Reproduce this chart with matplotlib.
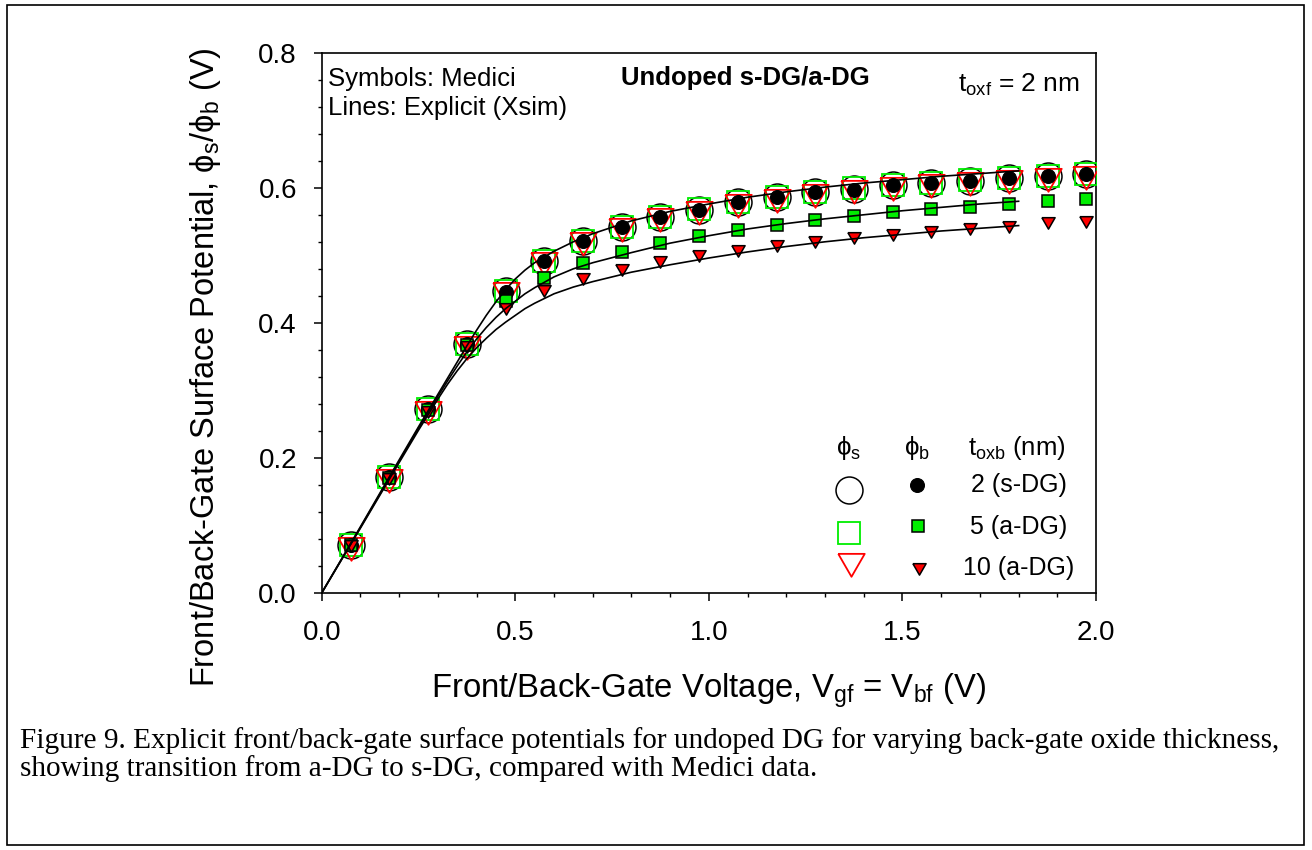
# Explicit front/back-gate surface potentials, undoped DG, varying back-gate oxide

import matplotlib
matplotlib.use("Agg")
import matplotlib.pyplot as plt
from matplotlib.patches import Rectangle
from matplotlib.ticker import MultipleLocator, FormatStrFormatter

plt.rcParams['font.family'] = ['Liberation Sans', 'DejaVu Sans']
plt.rcParams['mathtext.fontset'] = 'custom'
plt.rcParams['mathtext.rm'] = 'Liberation Sans'
plt.rcParams['mathtext.it'] = 'Liberation Sans:italic'
plt.rcParams['mathtext.bf'] = 'Liberation Sans:bold'

# Medici data (symbols)
vg = [0.075, 0.175, 0.275, 0.375, 0.475, 0.575, 0.675, 0.775, 0.875, 0.975,
      1.075, 1.175, 1.275, 1.375, 1.475, 1.575, 1.675, 1.775, 1.875, 1.975]

# phi_s, front surface (open symbols)
phis_2 = [0.071, 0.171, 0.272, 0.368, 0.447, 0.492, 0.521, 0.542, 0.557, 0.567,
          0.579, 0.587, 0.594, 0.598, 0.604, 0.607, 0.610, 0.614, 0.618, 0.620]
phis_5 = [0.071, 0.171, 0.272, 0.368, 0.447, 0.492, 0.521, 0.542, 0.557, 0.568,
          0.579, 0.587, 0.594, 0.599, 0.604, 0.607, 0.611, 0.614, 0.618, 0.621]
phis_10 = [0.071, 0.171, 0.272, 0.369, 0.448, 0.493, 0.522, 0.543, 0.558, 0.568,
           0.579, 0.587, 0.594, 0.599, 0.604, 0.608, 0.611, 0.615, 0.618, 0.621]

# phi_b, back surface (filled symbols)
phib_2 = [0.071, 0.171, 0.272, 0.368, 0.446, 0.492, 0.521, 0.542, 0.557, 0.567,
          0.579, 0.587, 0.594, 0.597, 0.604, 0.607, 0.610, 0.614, 0.618, 0.620]
phib_5 = [0.071, 0.170, 0.271, 0.367, 0.433, 0.466, 0.488, 0.505, 0.518, 0.529,
          0.537, 0.545, 0.552, 0.558, 0.564, 0.568, 0.572, 0.576, 0.580, 0.583]
phib_10 = [0.072, 0.171, 0.271, 0.367, 0.423, 0.450, 0.468, 0.481, 0.493, 0.502,
           0.510, 0.517, 0.523, 0.528, 0.533, 0.538, 0.542, 0.545, 0.551, 0.553]

# Explicit model (lines)
vg_line = [0.0, 0.1, 0.2, 0.25, 0.3, 0.325, 0.35, 0.375, 0.4, 0.425, 0.45,
           0.475, 0.5, 0.525, 0.55, 0.6, 0.65, 0.7, 0.8, 0.9, 1.0, 1.1, 1.2,
           1.3, 1.4, 1.5, 1.6, 1.7, 1.8]
line_2 = [0.0, 0.098, 0.197, 0.246, 0.294, 0.318, 0.342, 0.366, 0.389, 0.411,
          0.431, 0.449, 0.465, 0.478, 0.489, 0.506, 0.520, 0.532, 0.551, 0.565,
          0.576, 0.586, 0.594, 0.601, 0.607, 0.612, 0.617, 0.621, 0.625]
line_5 = [0.0, 0.097, 0.195, 0.244, 0.291, 0.314, 0.336, 0.357, 0.376, 0.393,
          0.408, 0.421, 0.432, 0.443, 0.452, 0.468, 0.480, 0.489, 0.504, 0.518,
          0.529, 0.539, 0.547, 0.554, 0.560, 0.566, 0.571, 0.576, 0.580]
line_10 = [0.0, 0.096, 0.193, 0.241, 0.287, 0.309, 0.329, 0.347, 0.363, 0.377,
           0.390, 0.401, 0.411, 0.421, 0.429, 0.443, 0.453, 0.461, 0.475, 0.486,
           0.496, 0.505, 0.513, 0.520, 0.526, 0.531, 0.536, 0.540, 0.544]

toxb_labels = ['2 (s-DG)', '5 (a-DG)', '10 (a-DG)']

# down triangle anchored at its centroid, like the SigmaPlot symbol
tri_down = [(-1, 0.577), (1, 0.577), (0, -1.155), (-1, 0.577)]

fig = plt.figure(figsize=(13.12, 8.5), dpi=100)
ax = fig.add_axes([0.2452, 0.3024, 0.5902, 0.6356])

green = '#00ee00'
red = '#ff0000'

# open symbols (phi_s)
ax.plot(vg, phis_2, 'o', ms=19.4, mfc='none', mec='black', mew=1.1, zorder=3)
ax.plot(vg, phis_5, 's', ms=16.5, mfc='none', mec=green, mew=1.3, zorder=3)
ax.plot(vg, phis_10, marker=tri_down, ls='none', ms=22, mfc='none', mec=red,
        mew=1.3, zorder=3)

# filled symbols (phi_b)
ax.plot(vg, phib_2, 'o', ms=10, mfc='black', mec='black', mew=0.8, zorder=4)
ax.plot(vg, phib_5, 's', ms=8.6, mfc=green, mec='black', mew=1.1, zorder=4)
ax.plot(vg, phib_10, marker=tri_down, ls='none', ms=11, mfc=red, mec='black',
        mew=1.1, zorder=4)

# explicit model
for ln in [line_2, line_5, line_10]:
    ax.plot(vg_line, ln, '-', color='black', lw=1.2, zorder=5)

ax.set_xlim(0, 2.0)
ax.set_ylim(0, 0.8)
ax.xaxis.set_major_locator(MultipleLocator(0.5))
ax.xaxis.set_minor_locator(MultipleLocator(0.1))
ax.yaxis.set_major_locator(MultipleLocator(0.2))
ax.yaxis.set_minor_locator(MultipleLocator(0.04))
ax.xaxis.set_major_formatter(FormatStrFormatter('%.1f'))
ax.yaxis.set_major_formatter(FormatStrFormatter('%.1f'))
ax.tick_params(which='major', direction='out', length=5.8, width=1.1,
               labelsize=20, pad=12)
ax.tick_params(axis='x', which='major', pad=14)
ax.tick_params(which='minor', direction='out', length=2.6, width=1.0)
for sp in ax.spines.values():
    sp.set_linewidth(1.2)

ax.set_xlabel(r'Front/Back-Gate Voltage, $\mathrm{V_{gf}}$ = $\mathrm{V_{bf}}$ (V)',
              fontsize=23.7)
ax.xaxis.set_label_coords(0.5, -0.146)
ax.set_ylabel(r'Front/Back-Gate Surface Potential, $\mathrm{ϕ_s/ϕ_b}$ (V)',
              fontsize=23.5)
ax.yaxis.set_label_coords(-0.127, 0.418)

# annotations
ax.text(0.008, 0.938, 'Symbols: Medici', transform=ax.transAxes, fontsize=18.5,
        va='baseline', ha='left')
ax.text(0.008, 0.884, 'Lines: Explicit (Xsim)', transform=ax.transAxes,
        fontsize=18.5, va='baseline', ha='left')
ax.text(0.547, 0.940, 'Undoped s-DG/a-DG', transform=ax.transAxes, fontsize=18.5,
        fontweight='bold', va='baseline', ha='center')
ax.text(0.9795, 0.927, r'$\mathrm{t_{oxf}}$ = 2 nm', transform=ax.transAxes,
        fontsize=19, va='baseline', ha='right')

# legend block
ax.text(0.680, 0.255, r'$\mathrm{ϕ_s}$', transform=ax.transAxes, fontsize=18.5,
        va='baseline', ha='center')
ax.text(0.769, 0.255, r'$\mathrm{ϕ_b}$', transform=ax.transAxes, fontsize=18.5,
        va='baseline', ha='center')
ax.text(0.898, 0.255, r'$\mathrm{t_{oxb}}$ (nm)', transform=ax.transAxes,
        fontsize=18.5, va='baseline', ha='center')

open_y = [0.191, 0.111, 0.060]
fill_y = [0.200, 0.124, 0.048]
label_y = [0.200, 0.122, 0.046]
ax.plot([0.681], [open_y[0]], 'o', ms=19.4, mfc='none', mec='black', mew=1.1,
        transform=ax.transAxes, clip_on=False)
ax.plot([0.681], [open_y[1]], 's', ms=16.5, mfc='none', mec=green, mew=1.3,
        transform=ax.transAxes, clip_on=False)
ax.plot([0.684], [open_y[2]], marker=tri_down, ms=22, mfc='none', mec=red,
        mew=1.3, transform=ax.transAxes, clip_on=False)
ax.plot([0.769], [fill_y[0]], 'o', ms=10, mfc='black', mec='black', mew=0.8,
        transform=ax.transAxes, clip_on=False)
ax.plot([0.770], [fill_y[1]], 's', ms=8.6, mfc=green, mec='black', mew=1.1,
        transform=ax.transAxes, clip_on=False)
ax.plot([0.771], [fill_y[2]], marker=tri_down, ms=11, mfc=red, mec='black',
        mew=1.1, transform=ax.transAxes, clip_on=False)
for lab, yy in zip(toxb_labels, label_y):
    ax.text(0.900, yy, lab, transform=ax.transAxes, fontsize=18,
            va='center', ha='center')

# caption and frame
fig.text(0.0155, 1 - 741 / 850,
         'Figure 9. Explicit front/back-gate surface potentials for undoped DG '
         'for varying back-gate oxide thickness,',
         family='Liberation Serif', fontsize=21.1, va='center', ha='left')
fig.text(0.0155, 1 - 769 / 850,
         'showing transition from a-DG to s-DG, compared with Medici data.',
         family='Liberation Serif', fontsize=21.1, va='center', ha='left')
fig.patches.append(Rectangle((7 / 1312, 5 / 850), 1297 / 1312, 840 / 850,
                             transform=fig.transFigure, fill=False,
                             edgecolor='black', lw=1.2))

fig.savefig('out.png', dpi=100)
